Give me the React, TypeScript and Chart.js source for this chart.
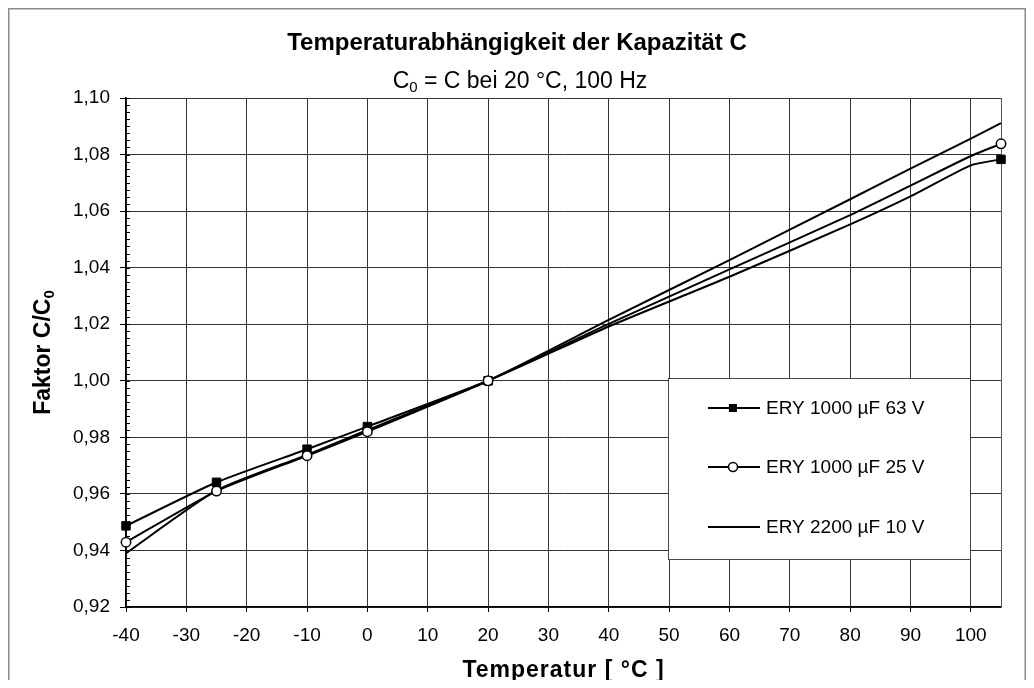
import React, { useEffect, useRef } from 'react';
import { Chart, registerables } from 'chart.js';

Chart.register(...registerables);

// ---- data ----
const temps = [-40, -25, -10, 0, 20, 40, 60, 80, 90, 100, 105];
const markedTemps = [-40, -25, -10, 0, 20, 105];
const ery63V = [0.9487, 0.9641, 0.9758, 0.9838, 1.0, 1.0192, 1.0368, 1.0553, 1.0652, 1.0762, 1.0783];
const ery25V = [0.9429, 0.961, 0.9735, 0.982, 1.0, 1.0201, 1.0394, 1.0586, 1.069, 1.0795, 1.0838];
const ery10V = [0.939, 0.9612, 0.9738, 0.9826, 1.0, 1.0215, 1.0427, 1.0642, 1.075, 1.0856, 1.0911];
const seriesLabels = ['ERY 1000 µF 63 V', 'ERY 1000 µF 25 V', 'ERY 2200 µF 10 V'];
const xTickValues = [-40, -30, -20, -10, 0, 10, 20, 30, 40, 50, 60, 70, 80, 90, 100];
const yTickValues = [0.92, 0.94, 0.96, 0.98, 1.0, 1.02, 1.04, 1.06, 1.08, 1.1];
const xRange = [-40, 105];
const yRange = [0.92, 1.1];
const yMinorStep = 0.0025;
const titleText = 'Temperaturabhängigkeit der Kapazität C';
const subtitleParts = ['C', '0', ' = C bei 20 °C, 100 Hz'];
const yTitleParts = ['Faktor C/C', '0'];
const xTitleText = 'Temperatur [ °C ]';

const FONT = '"Liberation Sans", Arial, sans-serif';
const W = 1018;
const H = 672;

function drawWithSub(ctx: CanvasRenderingContext2D, parts: string[], x: number, y: number, font: string, subFont: string, subDrop: number, align: 'center' | 'left') {
  ctx.font = font;
  const w0 = ctx.measureText(parts[0]).width;
  const w2 = parts[2] ? ctx.measureText(parts[2]).width : 0;
  ctx.font = subFont;
  const w1 = ctx.measureText(parts[1]).width;
  const total = w0 + w1 + w2;
  let sx = align === 'center' ? x - total / 2 : x;
  ctx.textAlign = 'left';
  ctx.font = font;
  ctx.fillText(parts[0], sx, y);
  sx += w0;
  ctx.font = subFont;
  ctx.fillText(parts[1], sx, y + subDrop);
  sx += w1;
  if (parts[2]) {
    ctx.font = font;
    ctx.fillText(parts[2], sx, y);
  }
}

const decorPlugin = {
  id: 'decor',
  beforeDraw(chart: any) {
    const { ctx } = chart;
    ctx.save();
    ctx.fillStyle = '#ffffff';
    ctx.fillRect(0, 0, chart.width, chart.height);
    ctx.restore();
  },
  beforeDatasetsDraw(chart: any) {
    const { ctx, chartArea: a, scales } = chart;
    const ys = scales.y;
    ctx.save();
    // plot right border
    ctx.strokeStyle = '#555';
    ctx.lineWidth = 1;
    ctx.beginPath();
    ctx.moveTo(a.right + 0.5, a.top);
    ctx.lineTo(a.right + 0.5, a.bottom);
    ctx.stroke();

    // minor ticks on y axis
    ctx.strokeStyle = '#000';
    ctx.lineWidth = 1;
    ctx.beginPath();
    const n = Math.round((yRange[1] - yRange[0]) / yMinorStep);
    for (let i = 0; i <= n; i++) {
      const v = yRange[0] + i * yMinorStep;
      const py = Math.round(ys.getPixelForValue(v)) + 0.5;
      ctx.moveTo(a.left, py);
      ctx.lineTo(a.left + 4, py);
    }
    ctx.stroke();
    ctx.restore();
  },
  afterDraw(chart: any) {
    const { ctx, chartArea: a } = chart;
    ctx.save();

    // outer frame
    ctx.strokeStyle = '#8c8c8c';
    ctx.lineWidth = 1.5;
    ctx.beginPath();
    ctx.moveTo(0.75, H + 10);
    ctx.lineTo(0.75, 0.75);
    ctx.lineTo(W - 0.75, 0.75);
    ctx.lineTo(W - 0.75, H + 10);
    ctx.stroke();

    ctx.fillStyle = '#000';
    ctx.textBaseline = 'alphabetic';

    // title
    ctx.font = `bold 24px ${FONT}`;
    ctx.textAlign = 'center';
    ctx.fillText(titleText, 509, 42);

    // subtitle
    drawWithSub(ctx, subtitleParts, 512, 80, `23px ${FONT}`, `15px ${FONT}`, 4, 'center');

    // x title
    ctx.font = `bold 23px ${FONT}`;
    ctx.textAlign = 'center';
    (ctx as any).letterSpacing = '1px';
    ctx.fillText(xTitleText, (a.left + a.right) / 2, 669);
    (ctx as any).letterSpacing = '0px';

    // y title (rotated)
    ctx.save();
    ctx.translate(42, (a.top + a.bottom) / 2);
    ctx.rotate(-Math.PI / 2);
    drawWithSub(ctx, [yTitleParts[0], yTitleParts[1], ''], 0, 0, `bold 23px ${FONT}`, `bold 15px ${FONT}`, 4, 'center');
    ctx.restore();

    // legend
    const bx = 660, by = 370, bw = 302, bh = 181;
    ctx.fillStyle = '#fff';
    ctx.fillRect(bx, by, bw, bh);
    ctx.strokeStyle = '#444';
    ctx.lineWidth = 1;
    ctx.strokeRect(bx + 0.5, by + 0.5, bw, bh);
    const rows = [400, 459, 519];
    chart.data.datasets.forEach((ds: any, i: number) => {
      const ry = rows[i];
      ctx.strokeStyle = '#000';
      ctx.lineWidth = 2;
      ctx.beginPath();
      ctx.moveTo(700, ry);
      ctx.lineTo(752, ry);
      ctx.stroke();
      if (ds.pointStyle === 'rect') {
        ctx.fillStyle = '#000';
        ctx.fillRect(725 - 4, ry - 4, 8, 8);
      } else if (ds.pointStyle === 'circle') {
        ctx.fillStyle = '#fff';
        ctx.lineWidth = 1.5;
        ctx.beginPath();
        ctx.arc(725, ry, 4.5, 0, Math.PI * 2);
        ctx.fill();
        ctx.stroke();
      }
      ctx.fillStyle = '#000';
      ctx.font = `19px ${FONT}`;
      ctx.textAlign = 'left';
      ctx.textBaseline = 'middle';
      ctx.fillText(ds.label, 758, ry + 1);
      ctx.textBaseline = 'alphabetic';
    });

    ctx.restore();
  },
};

export default function App() {
  const ref = useRef<HTMLCanvasElement | null>(null);

  useEffect(() => {
    if (!ref.current) return;
    const toPts = (vals: number[]) => temps.map((t, i) => ({ x: t, y: vals[i] }));
    const radii = (r: number) => temps.map((t) => (markedTemps.includes(t) ? r : 0));

    const chart = new Chart(ref.current, {
      type: 'line',
      data: {
        datasets: [
          {
            label: seriesLabels[0],
            data: toPts(ery63V),
            borderColor: '#000',
            backgroundColor: '#000',
            borderWidth: 2,
            pointStyle: 'rect',
            pointRadius: radii(6),
            pointBackgroundColor: '#000',
            pointBorderColor: '#000',
            pointBorderWidth: 1,
            tension: 0.2,
            clip: false,
            order: 2,
          },
          {
            label: seriesLabels[1],
            data: toPts(ery25V),
            borderColor: '#000',
            backgroundColor: '#fff',
            borderWidth: 2,
            pointStyle: 'circle',
            pointRadius: radii(4.7),
            pointBackgroundColor: '#fff',
            pointBorderColor: '#000',
            pointBorderWidth: 1.5,
            tension: 0.2,
            clip: false,
            order: 1,
          },
          {
            label: seriesLabels[2],
            data: toPts(ery10V),
            borderColor: '#000',
            backgroundColor: '#000',
            borderWidth: 2,
            pointStyle: false as any,
            pointRadius: 0,
            tension: 0.2,
            clip: false,
            order: 3,
          },
        ],
      },
      options: {
        responsive: false,
        animation: false,
        devicePixelRatio: 1,
        layout: { padding: { top: 90, right: 25, bottom: 0, left: 0 } },
        plugins: {
          legend: { display: false },
          title: { display: false },
          tooltip: { enabled: false },
        },
        scales: {
          x: {
            type: 'linear',
            min: xRange[0],
            max: xRange[1],
            afterBuildTicks: (s: any) => {
              s.ticks = xTickValues.map((v) => ({ value: v }));
            },
            afterFit: (s: any) => {
              s.height = H - 599;
            },
            ticks: {
              autoSkip: false,
              maxRotation: 0,
              color: '#000',
              padding: 12,
              font: { family: FONT, size: 19 },
              callback: (v: any) => String(v),
            },
            grid: { color: '#333', lineWidth: 1, tickLength: 5, tickColor: '#000' },
            border: { color: '#000', width: 1.5 },
          },
          y: {
            type: 'linear',
            min: yRange[0],
            max: yRange[1],
            afterBuildTicks: (s: any) => {
              s.ticks = yTickValues.map((v) => ({ value: v }));
            },
            afterFit: (s: any) => {
              s.width = 118;
            },
            ticks: {
              autoSkip: false,
              color: '#000',
              padding: 10,
              font: { family: FONT, size: 19 },
              callback: (v: any) => Number(v).toFixed(2).replace('.', ','),
            },
            grid: { color: '#333', lineWidth: 1, tickLength: 6, tickColor: '#000' },
            border: { color: '#000', width: 1.5 },
          },
        },
      } as any,
      plugins: [decorPlugin],
    });
    return () => chart.destroy();
  }, []);

  return (
    <div style={{ width: W, height: H }}>
      <canvas ref={ref} width={W} height={H} style={{ display: 'block', width: W, height: H }} />
    </div>
  );
}
